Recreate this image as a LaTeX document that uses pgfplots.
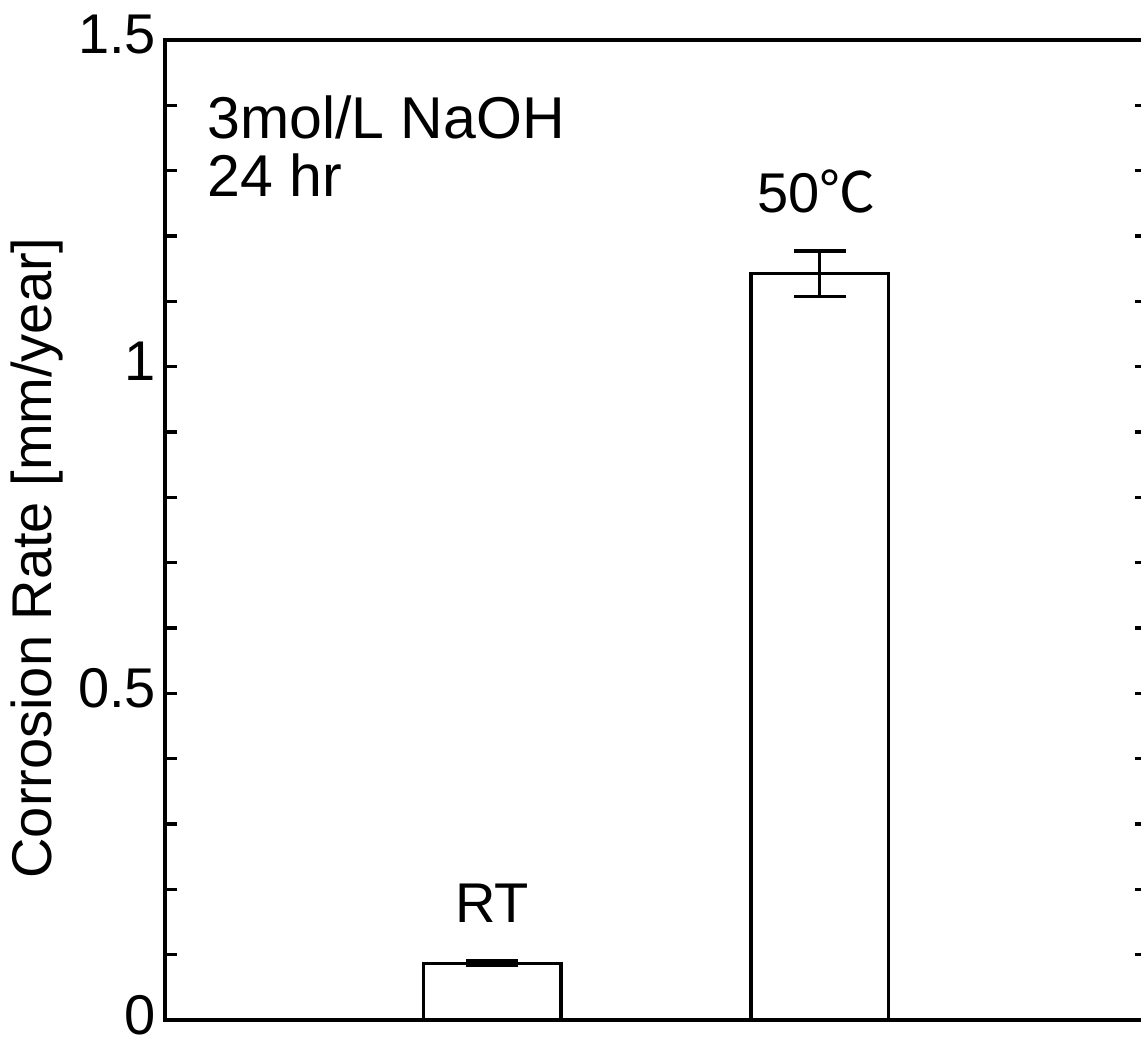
\documentclass[border=0pt]{standalone}
\usepackage{fontspec}
\setmainfont{Liberation Sans}
\newfontfamily\cjk{Noto Sans CJK JP}
\usepackage{pgfplots}
\pgfplotsset{compat=1.18}
\begin{document}
\begin{tikzpicture}
\begin{scope}
\clip (-82.5pt,-10pt) rectangle (488pt,510pt);
\begin{axis}[
  at={(0pt,0pt)}, anchor=south west,
  scale only axis, width=491pt, height=490pt,
  xmin=0, xmax=3, ymin=0, ymax=1.5,
  xtick=\empty,
  ytick={0,0.5,1,1.5},
  minor y tick num=4,
  ytick pos=both,
  tick align=inside,
  major tick length=6pt, minor tick length=6pt,
  axis line style={line width=1.6pt},
  every tick/.style={line width=1.6pt, black},
  every minor tick/.style={line width=1.6pt, black},
  yticklabel style={font=\fontsize{28}{34}\selectfont, xshift=-1pt, yshift=2.5pt},
  /pgf/number format/assume math mode=true,
  clip=false,
  ybar, bar width=0.42,
]
\addplot[draw=black, fill=white, line width=1.6pt,
  error bars/.cd, y dir=both, y explicit,
  error bar style={line width=1.6pt, black},
  error mark options={rotate=90, mark size=13pt, line width=1.6pt, black}]
  table[x=x, y=y, y error=e] {
  x y e
  1 0.087 0.004
  2 1.142 0.035
};
% annotations
\node[anchor=base west, font=\fontsize{29.5}{34}\selectfont, inner sep=0pt]
  at (axis cs:0.1283,1.3485) {3mol/L NaOH};
\node[anchor=base west, font=\fontsize{29.5}{34}\selectfont, inner sep=0pt]
  at (axis cs:0.1283,1.2597) {24 hr};
\node[anchor=base, font=\fontsize{28}{34}\selectfont, inner sep=0pt]
  at (axis cs:1,0.15) {RT};
\node[anchor=base, font=\fontsize{28}{34}\selectfont, inner sep=0pt]
  at (axis cs:1.99,1.2352) {50{\cjk ℃}};
\node[rotate=90, anchor=center, font=\fontsize{28}{34}\selectfont, inner sep=0pt]
  at (axis cs:-0.391,0.7072) {Corrosion Rate [mm/year]};
\end{axis}
\end{scope}
\pgfresetboundingbox
\path[use as bounding box] (-82.5pt,-10pt) rectangle (488pt,510pt);
\end{tikzpicture}
\end{document}
